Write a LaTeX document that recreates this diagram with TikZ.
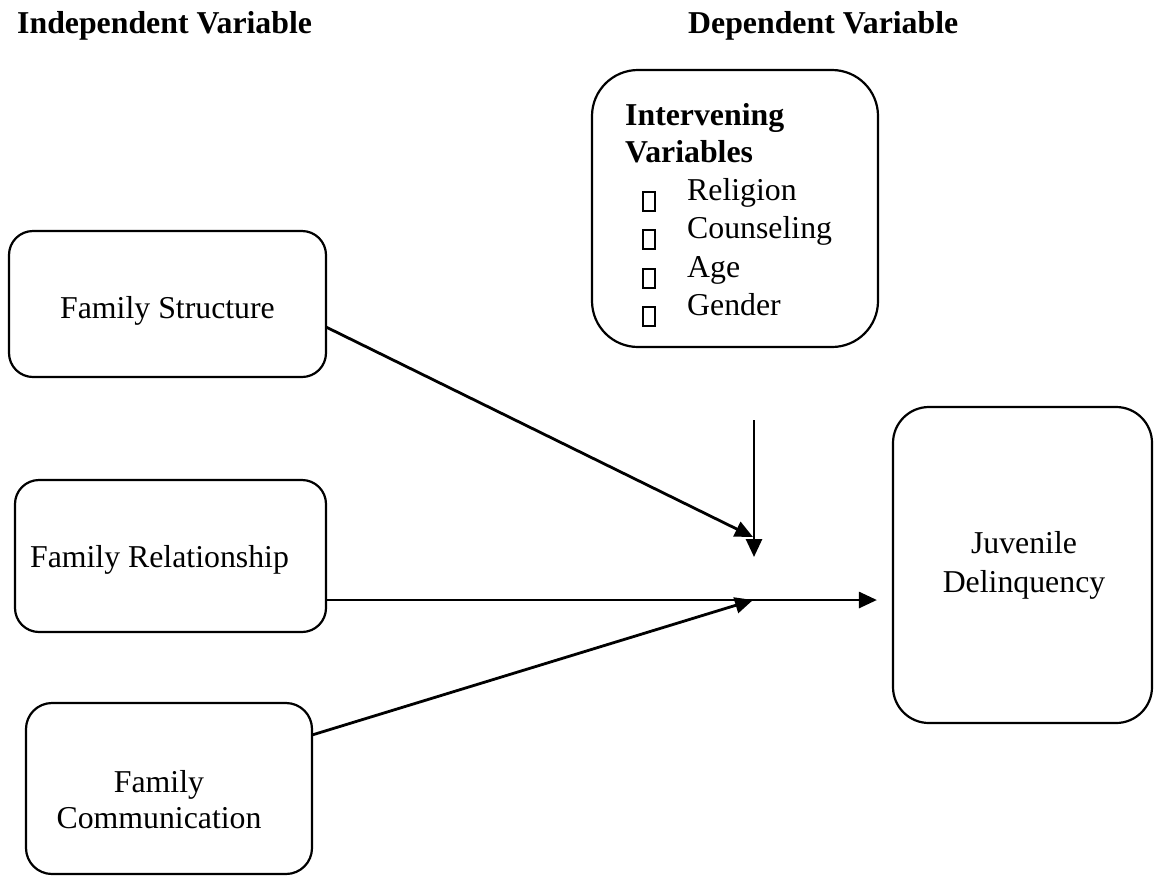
\documentclass[tikz,border=0pt]{standalone}
\usepackage{fontspec}
\setmainfont{Liberation Serif}
\usetikzlibrary{arrows.meta}
\begin{document}
\begin{tikzpicture}[x=1pt,y=-1pt,
  every node/.style={font=\fontsize{31.8}{38}\selectfont},
  boxstyle/.style={draw,line width=2.2pt,rounded corners=#1,inner sep=0pt},
  txt/.style={inner sep=0pt,anchor=base west},
  ctxt/.style={inner sep=0pt,anchor=base,align=center},
  bul/.style={draw,line width=2pt,inner sep=0pt,minimum width=12pt,minimum height=19pt},
  arr/.style={line width=2.8pt,-{Triangle[length=18pt,width=16pt]}}]
\useasboundingbox (0,0) rectangle (1155,876);
% headers
\node[txt,font=\fontsize{31.8}{38}\selectfont\bfseries] (hind) at (17,33) {Independent Variable};
\node[txt,font=\fontsize{31.8}{38}\selectfont\bfseries] (hdep) at (688,33) {Dependent Variable};
% boxes
\node[boxstyle=24pt,minimum width=317pt,minimum height=146pt] (fs) at (167.5,304) {};
\node[boxstyle=24pt,minimum width=311pt,minimum height=152pt] (fr) at (170.5,556) {};
\node[boxstyle=26pt,minimum width=286pt,minimum height=171pt] (fc) at (169,788.5) {};
\node[boxstyle=36pt,minimum width=259pt,minimum height=316pt] (jd) at (1022.5,565) {};
\node[boxstyle=46pt,minimum width=286pt,minimum height=277pt] (iv) at (735,208.5) {};
% texts
\node[ctxt] (tfs) at (167.5,318) {Family Structure};
\node[ctxt] (tfr) at (159.5,567) {Family Relationship};
\node[ctxt] (tfc1) at (159,792) {Family};
\node[ctxt] (tfc2) at (159,828) {Communication};
\node[ctxt] (tjd1) at (1024,553) {Juvenile};
\node[ctxt] (tjd2) at (1024,592) {Delinquency};
\node[txt,font=\fontsize{31.8}{38}\selectfont\bfseries] (iv1) at (625,125) {Intervening};
\node[txt,font=\fontsize{31.8}{38}\selectfont\bfseries] (iv2) at (625,162) {Variables};
\node[txt] (r1) at (687,200) {Religion};
\node[txt] (r2) at (687,238.5) {Counseling};
\node[txt] (r3) at (687,277) {Age};
\node[txt] (r4) at (687,315) {Gender};
\node[bul] (b1) at (648.5,201) {};
\node[bul] (b2) at (648.5,239.5) {};
\node[bul] (b3) at (648.5,278) {};
\node[bul] (b4) at (648.5,316) {};
% connector points
\coordinate (m1) at (753,537);
\coordinate (vtop) at (754,420);
\coordinate (vbot) at (754,557);
\coordinate (join) at (753,600);
\coordinate (fsout) at (326,327);
\coordinate (fcout) at (312,735);
% arrows
\draw[arr] (fsout) -- (m1);
\draw[arr] (vtop) -- (vbot);
\draw[arr] (fr.east |- join) -- ([xshift=-15pt]jd.west |- join);
\draw[arr] (fcout) -- (join);
\end{tikzpicture}
\end{document}
